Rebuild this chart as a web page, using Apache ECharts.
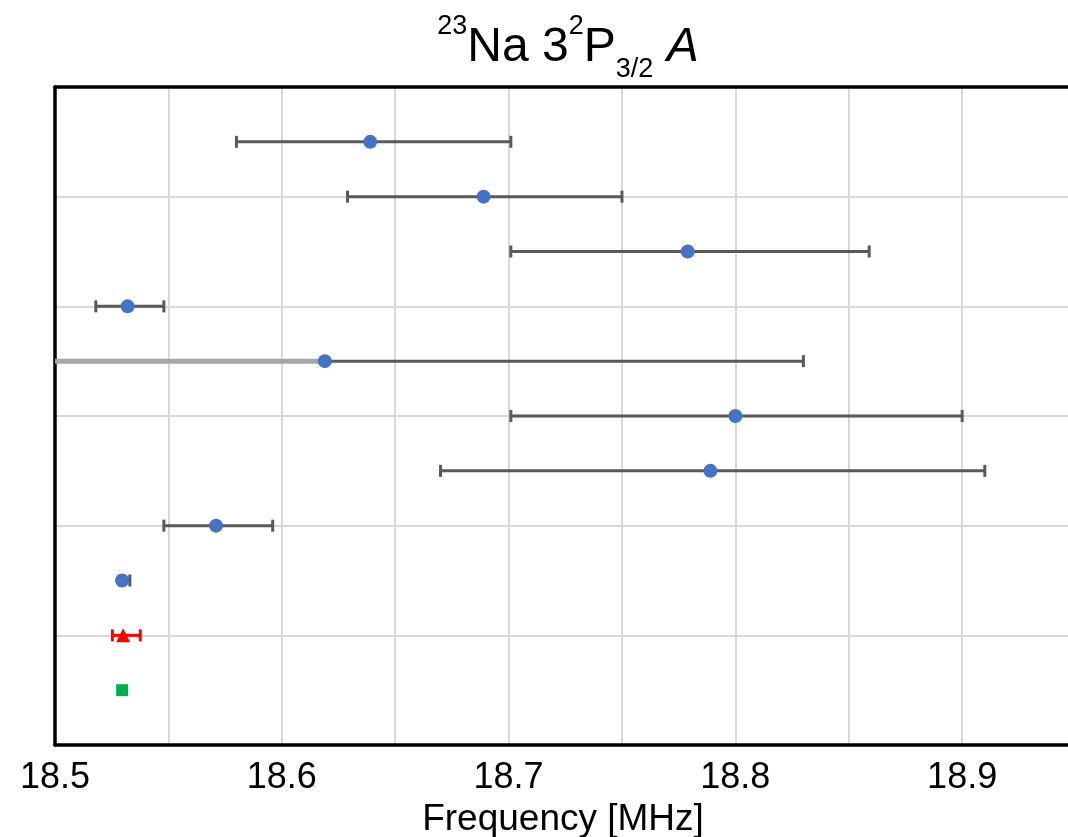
<!DOCTYPE html>
<html>
<head>
<meta charset="utf-8">
<script src="https://cdn.jsdelivr.net/npm/echarts@6/dist/echarts.min.js"></script>
<style>
html,body{margin:0;padding:0;background:#fff;}
#chart{width:1068px;height:837px;}
</style>
</head>
<body>
<div id="chart"></div>
<script>
// ---- data (rows listed top to bottom) ----
const rowValues = [18.639, 18.689, 18.779, 18.532, 18.619, 18.800, 18.789, 18.571, 18.5296, 18.530, 18.5296];
const rowLow    = [18.580, 18.629, 18.701, 18.518, 18.409, 18.701, 18.670, 18.548, 18.5285, 18.5253, null];
const rowHigh   = [18.701, 18.750, 18.859, 18.548, 18.830, 18.900, 18.910, 18.596, 18.5330, 18.5376, null];
const rowGroup  = ['blue','blue','blue','blue','blue','blue','blue','blue','blue','red','green'];
const xTickLabels = ['18.5', '18.6', '18.7', '18.8', '18.9'];
const xAxisName = 'Frequency [MHz]';

const groupStyle = {
  blue:  { color: '#4472C4', bar: '#595959', symbol: 'circle',   size: 14 },
  red:   { color: '#FF0000', bar: '#FF0000', symbol: 'triangle', size: 14 },
  green: { color: '#00B050', bar: '#00B050', symbol: 'rect',     size: 12 }
};

const errData = [];
rowValues.forEach((v, i) => {
  if (rowLow[i] != null) errData.push({ value: [v, i + 1, rowLow[i], rowHigh[i]], group: rowGroup[i] });
});

function scatterData(g) {
  const out = [];
  rowValues.forEach((v, i) => { if (rowGroup[i] === g) out.push([v, i + 1]); });
  return out;
}

const chart = echarts.init(document.getElementById('chart'), null, { renderer: 'canvas' });
const FF = 'Liberation Sans, Arial, sans-serif';

function tickFormatter(v) {
  const s = v.toFixed(1);
  if (Math.abs(v - parseFloat(s)) > 1e-6) return '';
  return xTickLabels.indexOf(s) >= 0 ? s : '';
}

const option = {
  animation: false,
  backgroundColor: '#fff',
  title: {
    text: '{sup|23}{n|Na 3}{sup|2}{n|P}{sub|3/2}{n| }{i|A}',
    left: 563,
    top: 8,
    textAlign: 'center',
    textStyle: {
      rich: {
        n:   { fontFamily: FF, fontSize: 48, fontWeight: 'normal', lineHeight: 70, color: '#000' },
        i:   { fontFamily: FF, fontSize: 48, fontWeight: 'normal', lineHeight: 70, fontStyle: 'italic', color: '#000' },
        sup: { fontFamily: FF, fontSize: 27, fontWeight: 'normal', lineHeight: 38, verticalAlign: 'top', color: '#000' },
        sub: { fontFamily: FF, fontSize: 27, fontWeight: 'normal', lineHeight: 26, verticalAlign: 'bottom', color: '#000' }
      }
    }
  },
  grid: {
    left: 55, right: -3, top: 87, bottom: 92,
    show: false,
    containLabel: false,
    outerBoundsMode: 'none'
  },
  xAxis: [
    {
      type: 'value',
      position: 'bottom',
      min: 18.5, max: 18.948, interval: 0.05,
      name: xAxisName,
      nameLocation: 'middle',
      nameGap: 56,
      nameTextStyle: { fontFamily: FF, fontSize: 37, color: '#000' },
      axisLine: { show: true, onZero: false, lineStyle: { color: '#000', width: 3.5 } },
      axisTick: { show: false },
      axisLabel: {
        fontFamily: FF, fontSize: 36, color: '#000', margin: 15,
        showMaxLabel: false,
        formatter: tickFormatter
      },
      splitLine: { show: true, lineStyle: { color: '#D9D9D9', width: 2 } }
    },
    {
      type: 'value',
      position: 'top',
      min: 18.5, max: 18.948, interval: 0.05,
      axisLine: { show: true, onZero: false, lineStyle: { color: '#000', width: 3.5 } },
      axisTick: { show: false },
      axisLabel: { show: false },
      splitLine: { show: false }
    }
  ],
  yAxis: {
    type: 'value', min: 0, max: 12, interval: 2, inverse: true,
    axisLine: { show: true, onZero: false, lineStyle: { color: '#000', width: 3.5 } },
    axisTick: { show: false }, axisLabel: { show: false },
    splitLine: { show: true, lineStyle: { color: '#D9D9D9', width: 2 } }
  },
  series: [
    {
      type: 'custom',
      z: 2,
      xAxisIndex: 0,
      encode: { x: [0, 2, 3], y: 1 },
      data: errData,
      renderItem: function (params, api) {
        const item = errData[params.dataIndex];
        const st = groupStyle[item.group];
        const y = api.value(1);
        const pV = api.coord([api.value(0), y]);
        const pL = api.coord([api.value(2), y]);
        const pH = api.coord([api.value(3), y]);
        const xmin = params.coordSys.x;
        const cap = 6;
        const ls = { stroke: st.bar, lineWidth: 3 };
        const children = [];
        if (pL[0] < xmin) {
          children.push({ type: 'line', shape: { x1: xmin, y1: pV[1], x2: pV[0], y2: pV[1] }, style: { stroke: '#A6A6A6', lineWidth: 5 } });
          children.push({ type: 'line', shape: { x1: pV[0], y1: pV[1], x2: pH[0], y2: pH[1] }, style: ls });
        } else {
          children.push({ type: 'line', shape: { x1: pL[0], y1: pL[1], x2: pH[0], y2: pH[1] }, style: ls });
          children.push({ type: 'line', shape: { x1: pL[0], y1: pL[1] - cap, x2: pL[0], y2: pL[1] + cap }, style: ls });
        }
        children.push({ type: 'line', shape: { x1: pH[0], y1: pH[1] - cap, x2: pH[0], y2: pH[1] + cap }, style: ls });
        return { type: 'group', children: children };
      }
    },
    {
      type: 'scatter', z: 3, data: scatterData('blue'),
      symbol: groupStyle.blue.symbol, symbolSize: groupStyle.blue.size,
      itemStyle: { color: groupStyle.blue.color, opacity: 1 }
    },
    {
      type: 'scatter', z: 3, data: scatterData('red'),
      symbol: groupStyle.red.symbol, symbolSize: groupStyle.red.size,
      itemStyle: { color: groupStyle.red.color, opacity: 1 }
    },
    {
      type: 'scatter', z: 3, data: scatterData('green'),
      symbol: groupStyle.green.symbol, symbolSize: groupStyle.green.size,
      itemStyle: { color: groupStyle.green.color, opacity: 1 }
    }
  ]
};
chart.setOption(option);
</script>
</body>
</html>
